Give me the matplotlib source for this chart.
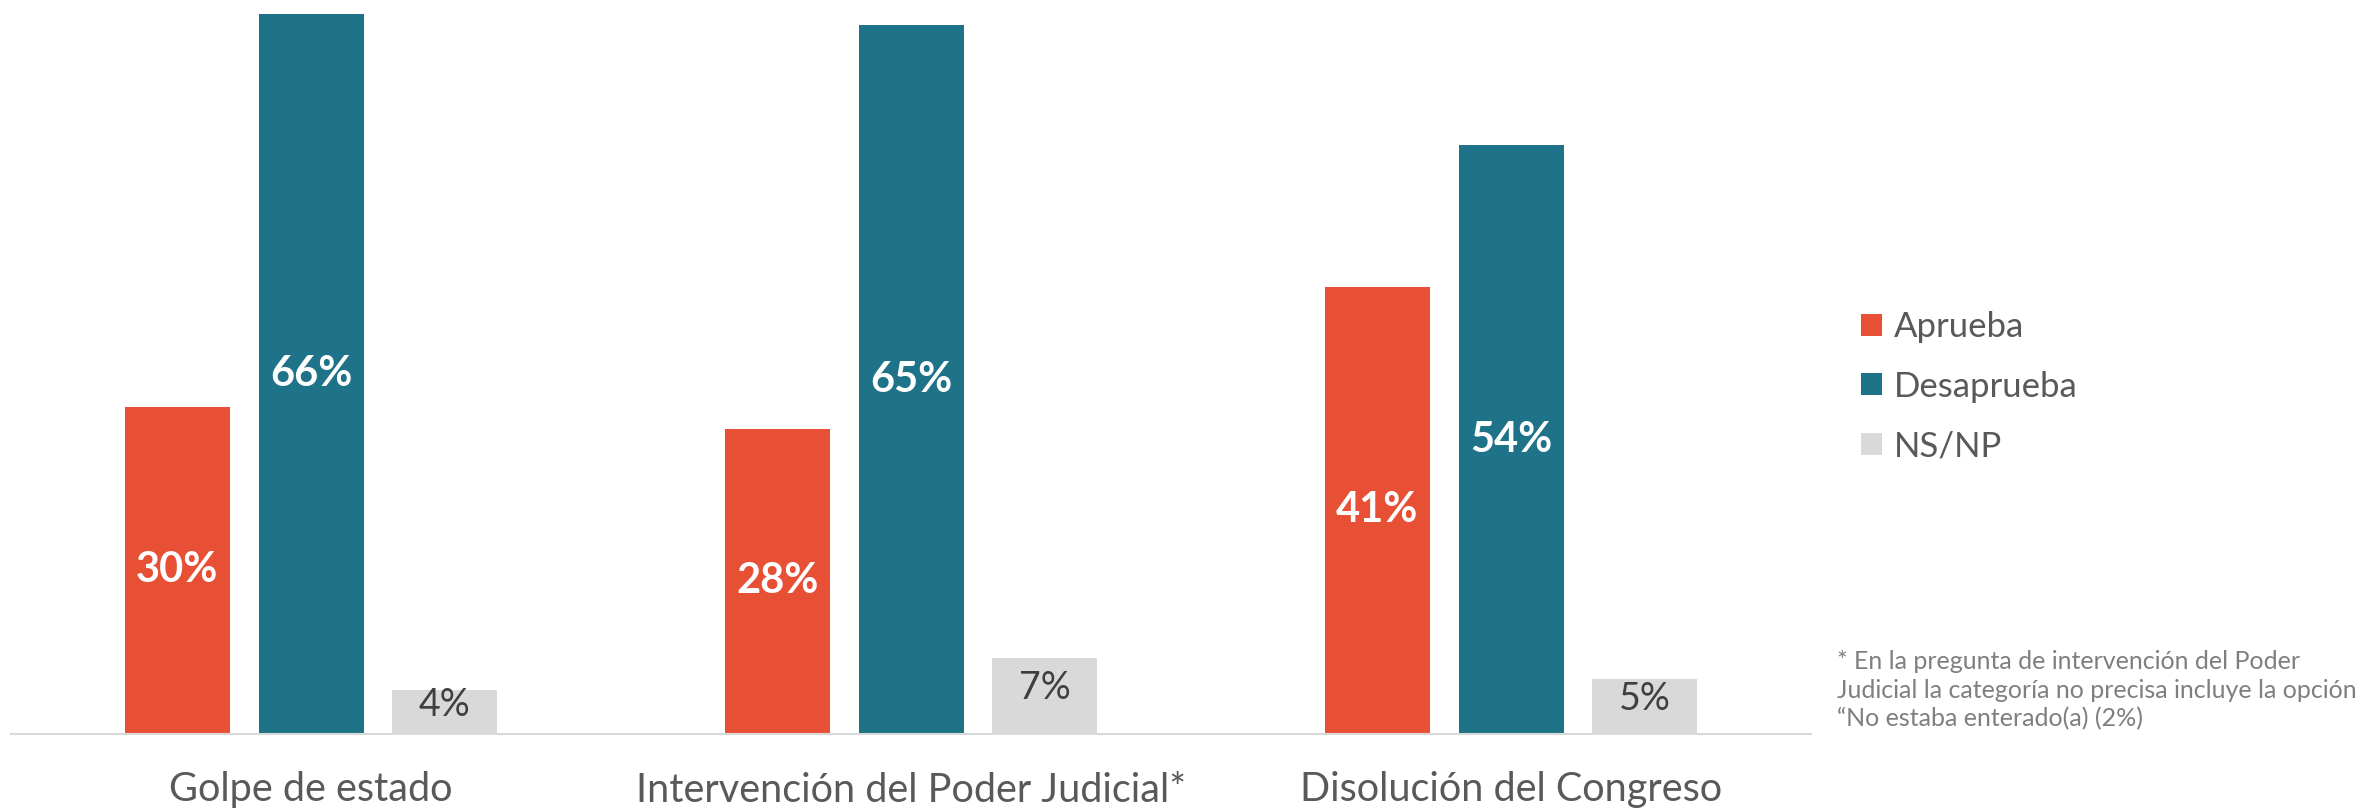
import matplotlib
matplotlib.use('Agg')
import matplotlib.pyplot as plt
import numpy as np

# Datos
categorias = ['Golpe de estado', 'Intervención del Poder Judicial*', 'Disolución del Congreso']
series = ['Aprueba', 'Desaprueba', 'NS/NP']
aprueba = [30, 28, 41]
desaprueba = [66, 65, 54]
nsnp = [4, 7, 5]
colores = ['#E85035', '#1E7389', '#D9D9D9']
nota = ('* En la pregunta de intervención del Poder\n'
        'Judicial la categoría no precisa incluye la opción\n'
        '“No estaba enterado(a) (2%)')

plt.rcParams['font.family'] = ['Lato', 'DejaVu Sans']

fig = plt.figure(figsize=(23.62, 8.11), dpi=100)
ax = fig.add_axes([11 / 2362, 77 / 811, 1800 / 2362, 734 / 811])

x = np.arange(len(categorias))
ancho = 0.175
desp = 0.223
valores = [aprueba, desaprueba, nsnp]
barras = []
for i, (nombre, vals, col) in enumerate(zip(series, valores, colores)):
    b = ax.bar(x + (i - 1) * desp, vals, ancho, color=col, label=nombre)
    barras.append(b)
    for xi, v in zip(x + (i - 1) * desp, vals):
        if i < 2:
            ax.text(xi, v / 2, f'{v}%', ha='center', va='center', color='white',
                    fontsize=30, fontweight='bold')
        else:
            ax.text(xi, v / 2 + 0.7, f'{v}%', ha='center', va='center', color='#404040',
                    fontsize=27)

ax.set_xlim(-0.5, 2.5)
ax.set_ylim(0, 67.3)
ax.set_yticks([])
ax.set_xticks(x)
ax.set_xticklabels(categorias, fontsize=28.5, color='#595959')
ax.tick_params(axis='x', length=0, pad=27)
for s in ['top', 'right', 'left']:
    ax.spines[s].set_visible(False)
ax.spines['bottom'].set_color('#D9D9D9')
ax.spines['bottom'].set_linewidth(1.5)

fig.legend(handles=barras, labels=series, loc='upper left',
           bbox_to_anchor=(1847 / 2362, 1 - 297 / 811), frameon=False,
           fontsize=25, labelcolor='#595959', handlelength=0.6, handleheight=0.6,
           handletextpad=0.35, labelspacing=0.8, borderaxespad=0)

fig.text(1837 / 2362, 1 - 650 / 811, nota, fontsize=18, color='#7F7F7F',
         va='top', ha='left', linespacing=1.3)

fig.savefig('out.png', dpi=100)
